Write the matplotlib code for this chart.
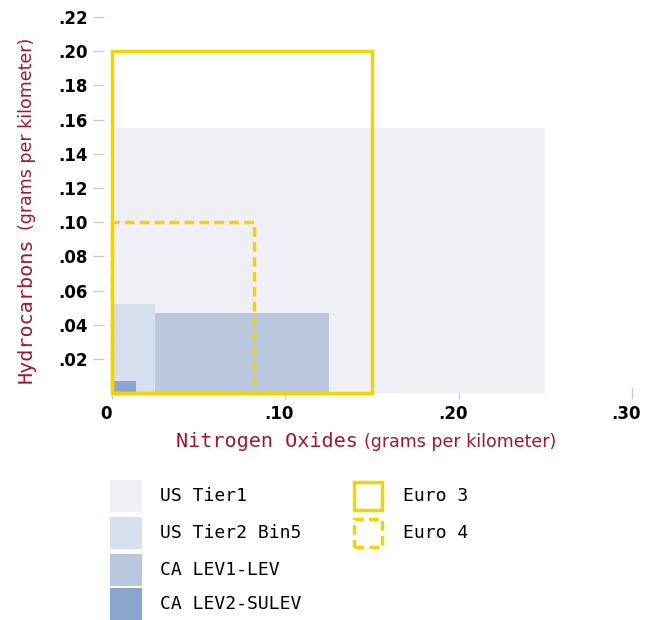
import matplotlib.pyplot as plt
from matplotlib.patches import Rectangle
import matplotlib.transforms as mtransforms

# emission limits (grams per kilometer)
us_names = ['US Tier1', 'US Tier2 Bin5', 'CA LEV1-LEV', 'CA LEV2-SULEV']
us_nox = [0.25, 0.025, 0.125, 0.014]
us_hc = [0.155, 0.052, 0.047, 0.007]
us_colors = ['#eff0f5', '#d6dfed', '#b9c8df', '#89a7cd']
# drawing order: Tier1, LEV1, Tier2, SULEV
draw_order = [0, 2, 1, 3]

euro_names = ['Euro 3', 'Euro 4']
euro_nox = [0.15, 0.082]
euro_hc = [0.20, 0.10]
euro_styles = ['-', (0, (2.8, 1.5))]

xticks = [0, 0.10, 0.20, 0.30]
xtick_labels = ['0', '.10', '.20', '.30']
yticks = [0.02, 0.04, 0.06, 0.08, 0.10, 0.12, 0.14, 0.16, 0.18, 0.20, 0.22]
ytick_labels = ['.02', '.04', '.06', '.08', '.10', '.12', '.14', '.16', '.18', '.20', '.22']

yellow = '#f2d500'
red = '#9c1a30'
W, H = 651, 620

fig = plt.figure(figsize=(6.51, 6.2), dpi=100)
ax = fig.add_axes([112 / W, 1 - 393.3 / H, 520 / W, 376.3 / H])

for i in draw_order:
    ax.add_patch(Rectangle((0, 0), us_nox[i], us_hc[i], facecolor=us_colors[i],
                           edgecolor='none', zorder=1))
for i in range(len(euro_names)):
    ax.add_patch(Rectangle((0, 0), euro_nox[i], euro_hc[i], facecolor='none',
                           edgecolor=yellow, linewidth=2.5, linestyle=euro_styles[i],
                           zorder=3, clip_on=False))

ax.set_xlim(0, 0.30)
ax.set_ylim(0, 0.22)
for s in ax.spines.values():
    s.set_visible(False)
ax.spines['left'].set_position(('outward', 6))
ax.set_axisbelow(True)

ax.set_xticks(xticks)
ax.set_xticklabels(xtick_labels, fontsize=12, fontweight='bold')
ax.set_yticks(yticks)
ax.set_yticklabels(ytick_labels, fontsize=12, fontweight='bold')
ax.tick_params(axis='y', direction='out', length=8, width=1, color='#cccccc', pad=3.5)
ax.tick_params(axis='x', direction='inout', length=9, width=1, color='#cccccc', pad=4)
offset = mtransforms.ScaledTranslation(-6 / 100, 0, fig.dpi_scale_trans)
for lbl in ax.get_xticklabels():
    lbl.set_transform(lbl.get_transform() + offset)

# axis titles
fig.text(176 / W, 1 - 447 / H, 'Nitrogen Oxides', color=red, fontsize=14.5,
         family='DejaVu Sans Mono', ha='left', va='baseline')
fig.text(364 / W, 1 - 447 / H, '(grams per kilometer)', color=red, fontsize=12.5,
         ha='left', va='baseline')
fig.text(32 / W, 1 - 383 / H, 'Hydrocarbons', color=red, fontsize=14.5,
         family='DejaVu Sans Mono', rotation=90, rotation_mode='anchor',
         ha='left', va='baseline')
fig.text(32 / W, 1 - 230 / H, '(grams per kilometer)', color=red, fontsize=12.5,
         rotation=90, rotation_mode='anchor', ha='left', va='baseline')

# legend
row_y = [496, 533, 570, 604]
for i, name in enumerate(us_names):
    fig.add_artist(Rectangle((110 / W, 1 - (row_y[i] + 16) / H), 32 / W, 32 / H,
                             facecolor=us_colors[i], edgecolor='none',
                             transform=fig.transFigure))
    fig.text(160 / W, 1 - row_y[i] / H, name, fontsize=13, family='DejaVu Sans Mono',
             ha='left', va='center')
for i, name in enumerate(euro_names):
    fig.add_artist(Rectangle((354 / W, 1 - (row_y[i] + 14) / H), 28 / W, 28 / H,
                             facecolor='none', edgecolor=yellow, linewidth=2.5,
                             linestyle=euro_styles[i], transform=fig.transFigure))
    fig.text(403 / W, 1 - row_y[i] / H, name, fontsize=13, family='DejaVu Sans Mono',
             ha='left', va='center')

plt.savefig('out.png', dpi=100)
